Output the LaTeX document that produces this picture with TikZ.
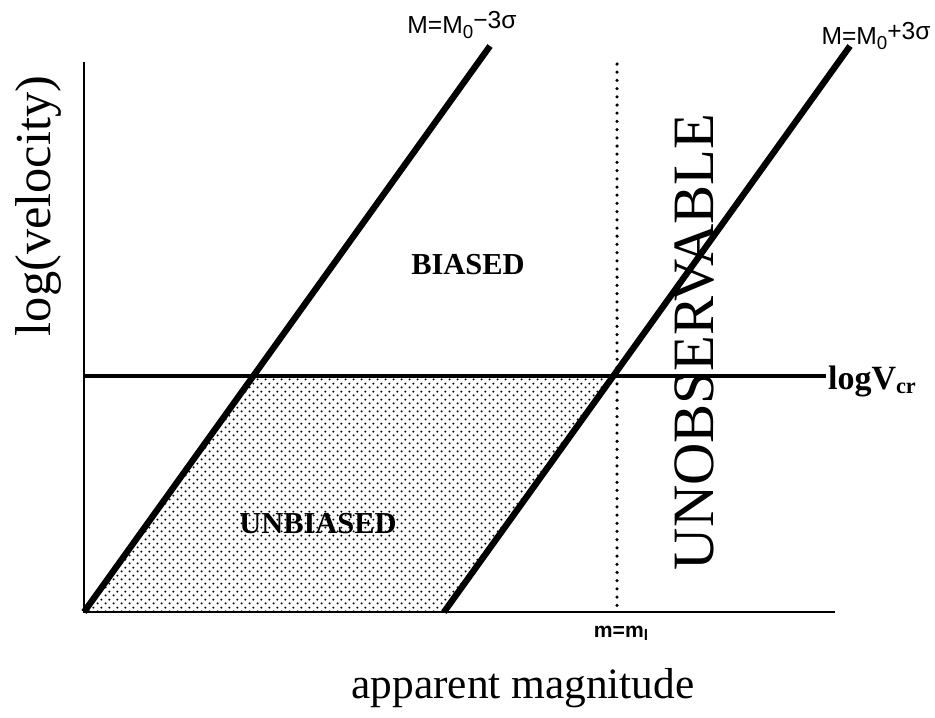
\documentclass[tikz,border=0pt]{standalone}
\usepackage{fontspec}
\setmainfont{Liberation Serif}
\newfontfamily\lblfont{Liberation Sans}
\usepackage{tikz}
\usetikzlibrary{patterns,positioning,calc}
% dot fill of the unbiased region
\pgfdeclarepatternformonly{fitdots}{\pgfqpoint{-1.5pt}{-1.5pt}}{\pgfqpoint{5.5pt}{5.5pt}}{\pgfqpoint{7pt}{7pt}}{%
  \pgfpathcircle{\pgfqpoint{0pt}{0pt}}{1pt}
  \pgfpathcircle{\pgfqpoint{3.5pt}{3.5pt}}{1pt}
  \pgfusepath{fill}}

\begin{document}
\begin{tikzpicture}[x=0.03cm, y=-0.03cm,
  axisline/.style={line width=2pt, black},
  critline/.style={line width=2.6pt, black},
  limline/.style={line width=5.4pt, black},
  dotline/.style={line width=3pt, line cap=round, dash pattern=on 0pt off 7pt},
  region/.style={font=\fontsize{26}{30}\selectfont\bfseries},
  axislabel/.style={font=\fontsize{37}{42}\selectfont},
  smalllbl/.style={font=\lblfont\fontsize{21}{25}\selectfont}
]
  \useasboundingbox (0,0) rectangle (935,717);

  % Axes and reference points
  \coordinate (O) at (84,612);
  \coordinate (ytop) at (84,62);
  \coordinate (xend) at (835,612);
  \coordinate (vl) at (84,376);
  \coordinate (vr) at (826,376);
  \coordinate (ltop) at (490,46);
  \coordinate (rbot) at (444,612);
  \coordinate (rtop) at (850,46);
  \coordinate (lcut) at (253,376);
  \coordinate (rcut) at (613,376);
  \coordinate (mtop) at (617,64);
  \coordinate (mbot) at (617,612);

  % Unbiased region
  \fill[pattern=fitdots] (O) -- (lcut) -- (rcut) -- (rbot) -- cycle;

  \draw[axisline] (ytop) -- (O) -- (xend);
  \draw[critline] (vl) -- (vr);
  \draw[dotline] (mtop) -- (mbot);
  \draw[limline] (O) -- (ltop);
  \draw[limline] (rbot) -- (rtop);

  % Labels
  \node[smalllbl] (lminus) at (462,25) {M=M\raisebox{-0.35ex}{\fontsize{16}{18}\selectfont 0}\raisebox{0.35ex}{−3σ}};
  \node[smalllbl] (lplus) at (876,36) {M=M\raisebox{-0.35ex}{\fontsize{16}{18}\selectfont 0}\raisebox{0.35ex}{+3σ}};
  \node[font=\fontsize{29}{34}\selectfont\bfseries, anchor=west] (lvcr) at (824,381) {logV\raisebox{-0.3ex}{\fontsize{19}{22}\selectfont cr}};
  \node[smalllbl, font=\lblfont\bfseries\fontsize{18}{22}\selectfont] (mlim) at (621,633) {m=m\raisebox{-0.3ex}{\fontsize{13}{16}\selectfont l}};
  \node[region] (biased) at (468,265) {BIASED};
  \node[region] (unbiased) at (318,524) {UNBIASED};
  \node[font=\fontsize{50}{56}\selectfont, rotate=90] (unobs) at (695,342) {UNOBSERVABLE};
  \node[axislabel, font=\fontsize{43}{48}\selectfont, rotate=90] (ylbl) at (38,206) {log(velocity)};
  \node[axislabel] (xlbl) at (523,688) {apparent magnitude};
\end{tikzpicture}
\end{document}
